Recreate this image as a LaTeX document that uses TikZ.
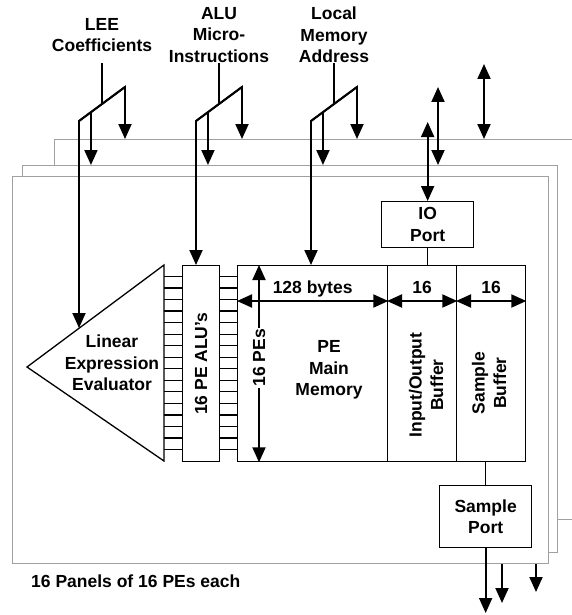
\documentclass[tikz,border=0pt]{standalone}
\usepackage{fontspec}
\setmainfont{Liberation Sans}
\usetikzlibrary{arrows.meta,calc}
\definecolor{panelC}{HTML}{A0A0A0}
\tikzset{
  panel/.style={draw=panelC, fill=white, line width=1pt, anchor=north west, inner sep=0pt},
  blk/.style={draw, line width=1.3pt, fill=white, anchor=north west, inner sep=0pt},
  txt/.style={font=\fontsize{17.5}{21.5}\selectfont\bfseries, align=center, inner sep=0pt},
  bus/.style={line width=1.9pt},
  arr/.style={bus, -{Triangle[length=15pt,width=13pt]}},
  dbl/.style={bus, {Triangle[length=15pt,width=13pt]}-{Triangle[length=15pt,width=13pt]}},
}
\begin{document}
\begin{tikzpicture}[x=1pt, y=-1pt]
\useasboundingbox (0,0) rectangle (572,615);
% three stacked panels
\node[panel, minimum width=560pt, minimum height=380pt] (pnlB) at (54,139) {};
\node[panel, minimum width=535pt, minimum height=387pt] (pnlM) at (22,165) {};
\draw[arr] (502,563) -- (502,603);
\draw[arr] (536,563) -- (536,592);
\node[panel, minimum width=536pt, minimum height=387pt] (pnlF) at (12,176) {};
% blocks
\draw[line width=1.3pt, fill=white] (27,367) coordinate (leeApex) -- (164,265) coordinate (leeNE) -- (164,461) coordinate (leeSE) -- cycle;
\node[txt] (lee) at (112,363) {Linear\\Expression\\Evaluator};
\node[blk, minimum width=37pt, minimum height=196pt] (alu) at (182,265) {};
\node[blk, minimum width=150pt, minimum height=196pt] (mem) at (237,265) {};
\node[blk, minimum width=69pt, minimum height=196pt] (iob) at (387,265) {};
\node[blk, minimum width=69pt, minimum height=196pt] (smb) at (456,265) {};
\node[blk, minimum width=92pt, minimum height=46pt] (iop) at (381,201) {};
\node[blk, minimum width=92pt, minimum height=62pt] (smp) at (439,485) {};
\foreach \k in {1,...,16}
  \draw[line width=1.3pt] (leeNE |- 0,{265+\k*196/17}) -- (alu.west |- 0,{265+\k*196/17})
    (alu.east |- 0,{265+\k*196/17}) -- (mem.west |- 0,{265+\k*196/17});
\node[txt, rotate=90] at (alu.center) {16 PE ALU's};
\node[txt] at (329,370) {PE\\Main\\Memory};
\node[txt, rotate=90] at (426,385) {Input/Output\\Buffer};
\node[txt, rotate=90] at (489,383) {Sample\\Buffer};
\node[txt] at (iop.center) {IO\\Port};
\node[txt] at (smp.center) {Sample\\Port};
% widths
\draw[dbl] (259,0 |- mem.north) -- (259,0 |- mem.south)
  node[txt, pos=0.47, rotate=90, fill=white, inner sep=1.5pt] {16 PEs};
\draw[dbl] (mem.west |- 0,301) -- (mem.east |- 0,301) node[txt, midway, anchor=base, yshift=8pt] {128 bytes};
\draw[dbl] (iob.west |- 0,301) -- (iob.east |- 0,301) node[txt, midway, anchor=base, yshift=8pt] {16};
\draw[dbl] (smb.west |- 0,301) -- (smb.east |- 0,301) node[txt, midway, anchor=base, yshift=8pt] {16};
% ports
\draw[line width=1.3pt] (iop.south) -- (iop.south |- iob.north);
\draw[line width=1.3pt] (smp.north) -- (smp.north |- smb.south);
\draw[arr] (smp.south) -- (smp.south |- 0,613);
\draw[dbl] (iop.north |- 0,122) -- (iop.north);
\draw[dbl] (438,87) -- (438,0 |- pnlM.north);
\draw[dbl] (484,64) -- (484,0 |- pnlB.north);
% control buses
\node[txt] (leeT) at (102,35) {LEE\\Coefficients};
\node[txt] (aluT) at (219,35) {ALU\\Micro-\\Instructions};
\node[txt] (lmaT) at (334,35) {Local\\Memory\\Address};
\foreach \n/\c/\b in {lee/102/328, alu/219/265, lma/334/265} {
  \coordinate (\n-a) at (\c,63);
  \coordinate (\n-l) at (\c-23,121);
  \coordinate (\n-r) at (\c+23,87);
  \coordinate (\n-m) at ($(\n-l)!0.26!(\n-r)$);
  \draw[bus] (\n-a) -- ($(\n-l)!0.5!(\n-r)$);
  \draw[arr] (\n-l) -- (\n-r) -- (\c+23,0 |- pnlB.north);
  \draw[arr] (\n-r) -- (\n-l) -- (\c-23,\b);
  \draw[arr] (\n-m) -- (\n-m |- pnlM.north);
}
\node[txt, anchor=west] (caption) at (31,581) {16 Panels of 16 PEs each};
\end{tikzpicture}
\end{document}
